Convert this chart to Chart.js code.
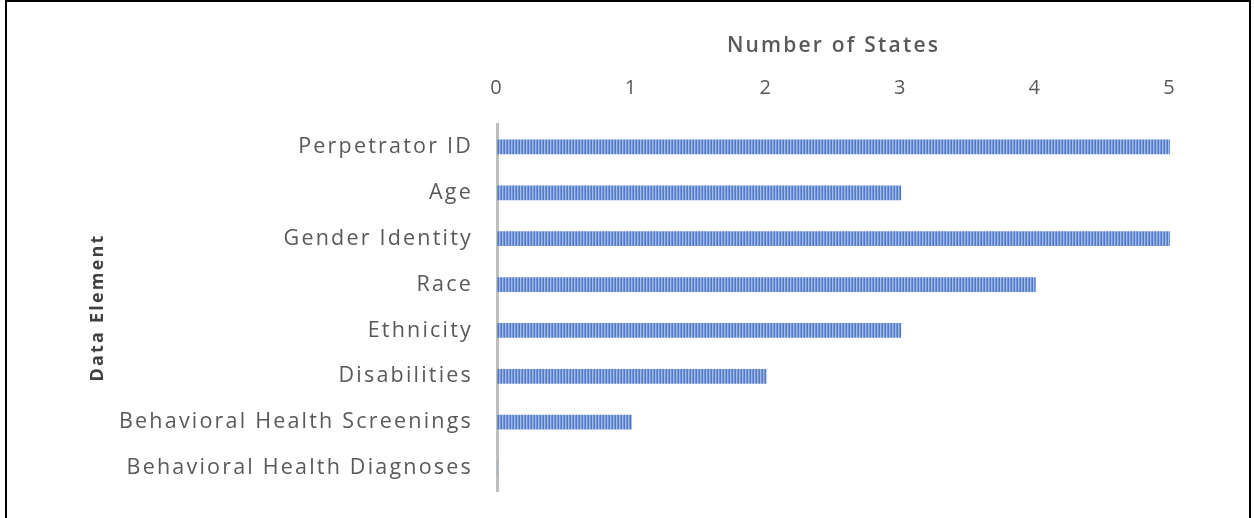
<!DOCTYPE html>
<html><head><meta charset="utf-8">
<script src="https://cdn.jsdelivr.net/npm/chart.js@4.4.0/dist/chart.umd.min.js"></script>
<style>
html,body{margin:0;padding:0;background:#fff;}
#wrap{position:absolute;left:0;top:0;width:1254px;height:518px;}
#frame{position:absolute;left:5px;top:0;width:1246px;height:518px;border-left:2px solid #000;border-top:2px solid #000;border-right:2px solid #000;box-sizing:border-box;pointer-events:none;}
canvas{position:absolute;left:0;top:0;}
</style></head>
<body>
<div id="wrap"><canvas id="c" width="1254" height="518"></canvas><div id="frame"></div></div>
<script>
const categories = ["Perpetrator ID","Age","Gender Identity","Race","Ethnicity","Disabilities","Behavioral Health Screenings","Behavioral Health Diagnoses"];
const states = [5,3,5,4,3,2,1,0];
const xTicks = [0,1,2,3,4,5];
const xTitle = "Number of States";
const yTitle = "Data Element";

const pc = document.createElement('canvas');
pc.width = 3; pc.height = 16;
const px = pc.getContext('2d');
px.fillStyle = '#5079c6'; px.fillRect(0,0,1,16);
px.fillStyle = '#a3bae6'; px.fillRect(1,0,1,16);
px.fillStyle = '#7496d5'; px.fillRect(2,0,1,16);
const ctx = document.getElementById('c').getContext('2d');
const pattern = ctx.createPattern(pc,'repeat');

const grey = '#595959';
const fam = '"Open Sans", "Noto Sans", sans-serif';

const spacingPlugin = {
  id: 'spacing',
  beforeDraw(chart) { chart.ctx.letterSpacing = '2.2px'; }
};

new Chart(ctx, {
  type: 'bar',
  data: { labels: categories, datasets: [{ data: states, backgroundColor: pattern, borderWidth: 0, barThickness: 14 }] },
  plugins: [spacingPlugin],
  options: {
    indexAxis: 'y', responsive: false, animation: false,
    layout: { padding: { left: 0, right: 84, top: 0, bottom: 27 } },
    plugins: { legend: { display: false }, tooltip: { enabled: false } },
    scales: {
      x: {
        position: 'top', min: 0, max: 5,
        afterBuildTicks: s => { s.ticks = xTicks.map(v => ({ value: v })); },
        afterFit: s => { s.height = 124; },
        grid: { display: false, drawTicks: false },
        border: { display: false },
        ticks: { color: grey, font: { family: fam, size: 20 }, padding: 24 },
        title: { display: true, text: xTitle, color: grey, font: { family: fam, size: 21, weight: '600' }, padding: { top: 33, bottom: 0 } }
      },
      y: {
        afterFit: s => { s.width = 497; s.paddingTop = 0; s.paddingBottom = 0; },
        grid: { display: false, drawTicks: false },
        border: { display: true, color: '#bfbfbf', width: 3 },
        ticks: { color: grey, font: { family: fam, size: 21.5 }, padding: 24 },
        title: { display: true, text: yTitle, color: '#404040', font: { family: fam, size: 18, weight: 'bold' }, padding: { top: 87, bottom: 0 } }
      }
    }
  }
});
</script>
</body></html>
